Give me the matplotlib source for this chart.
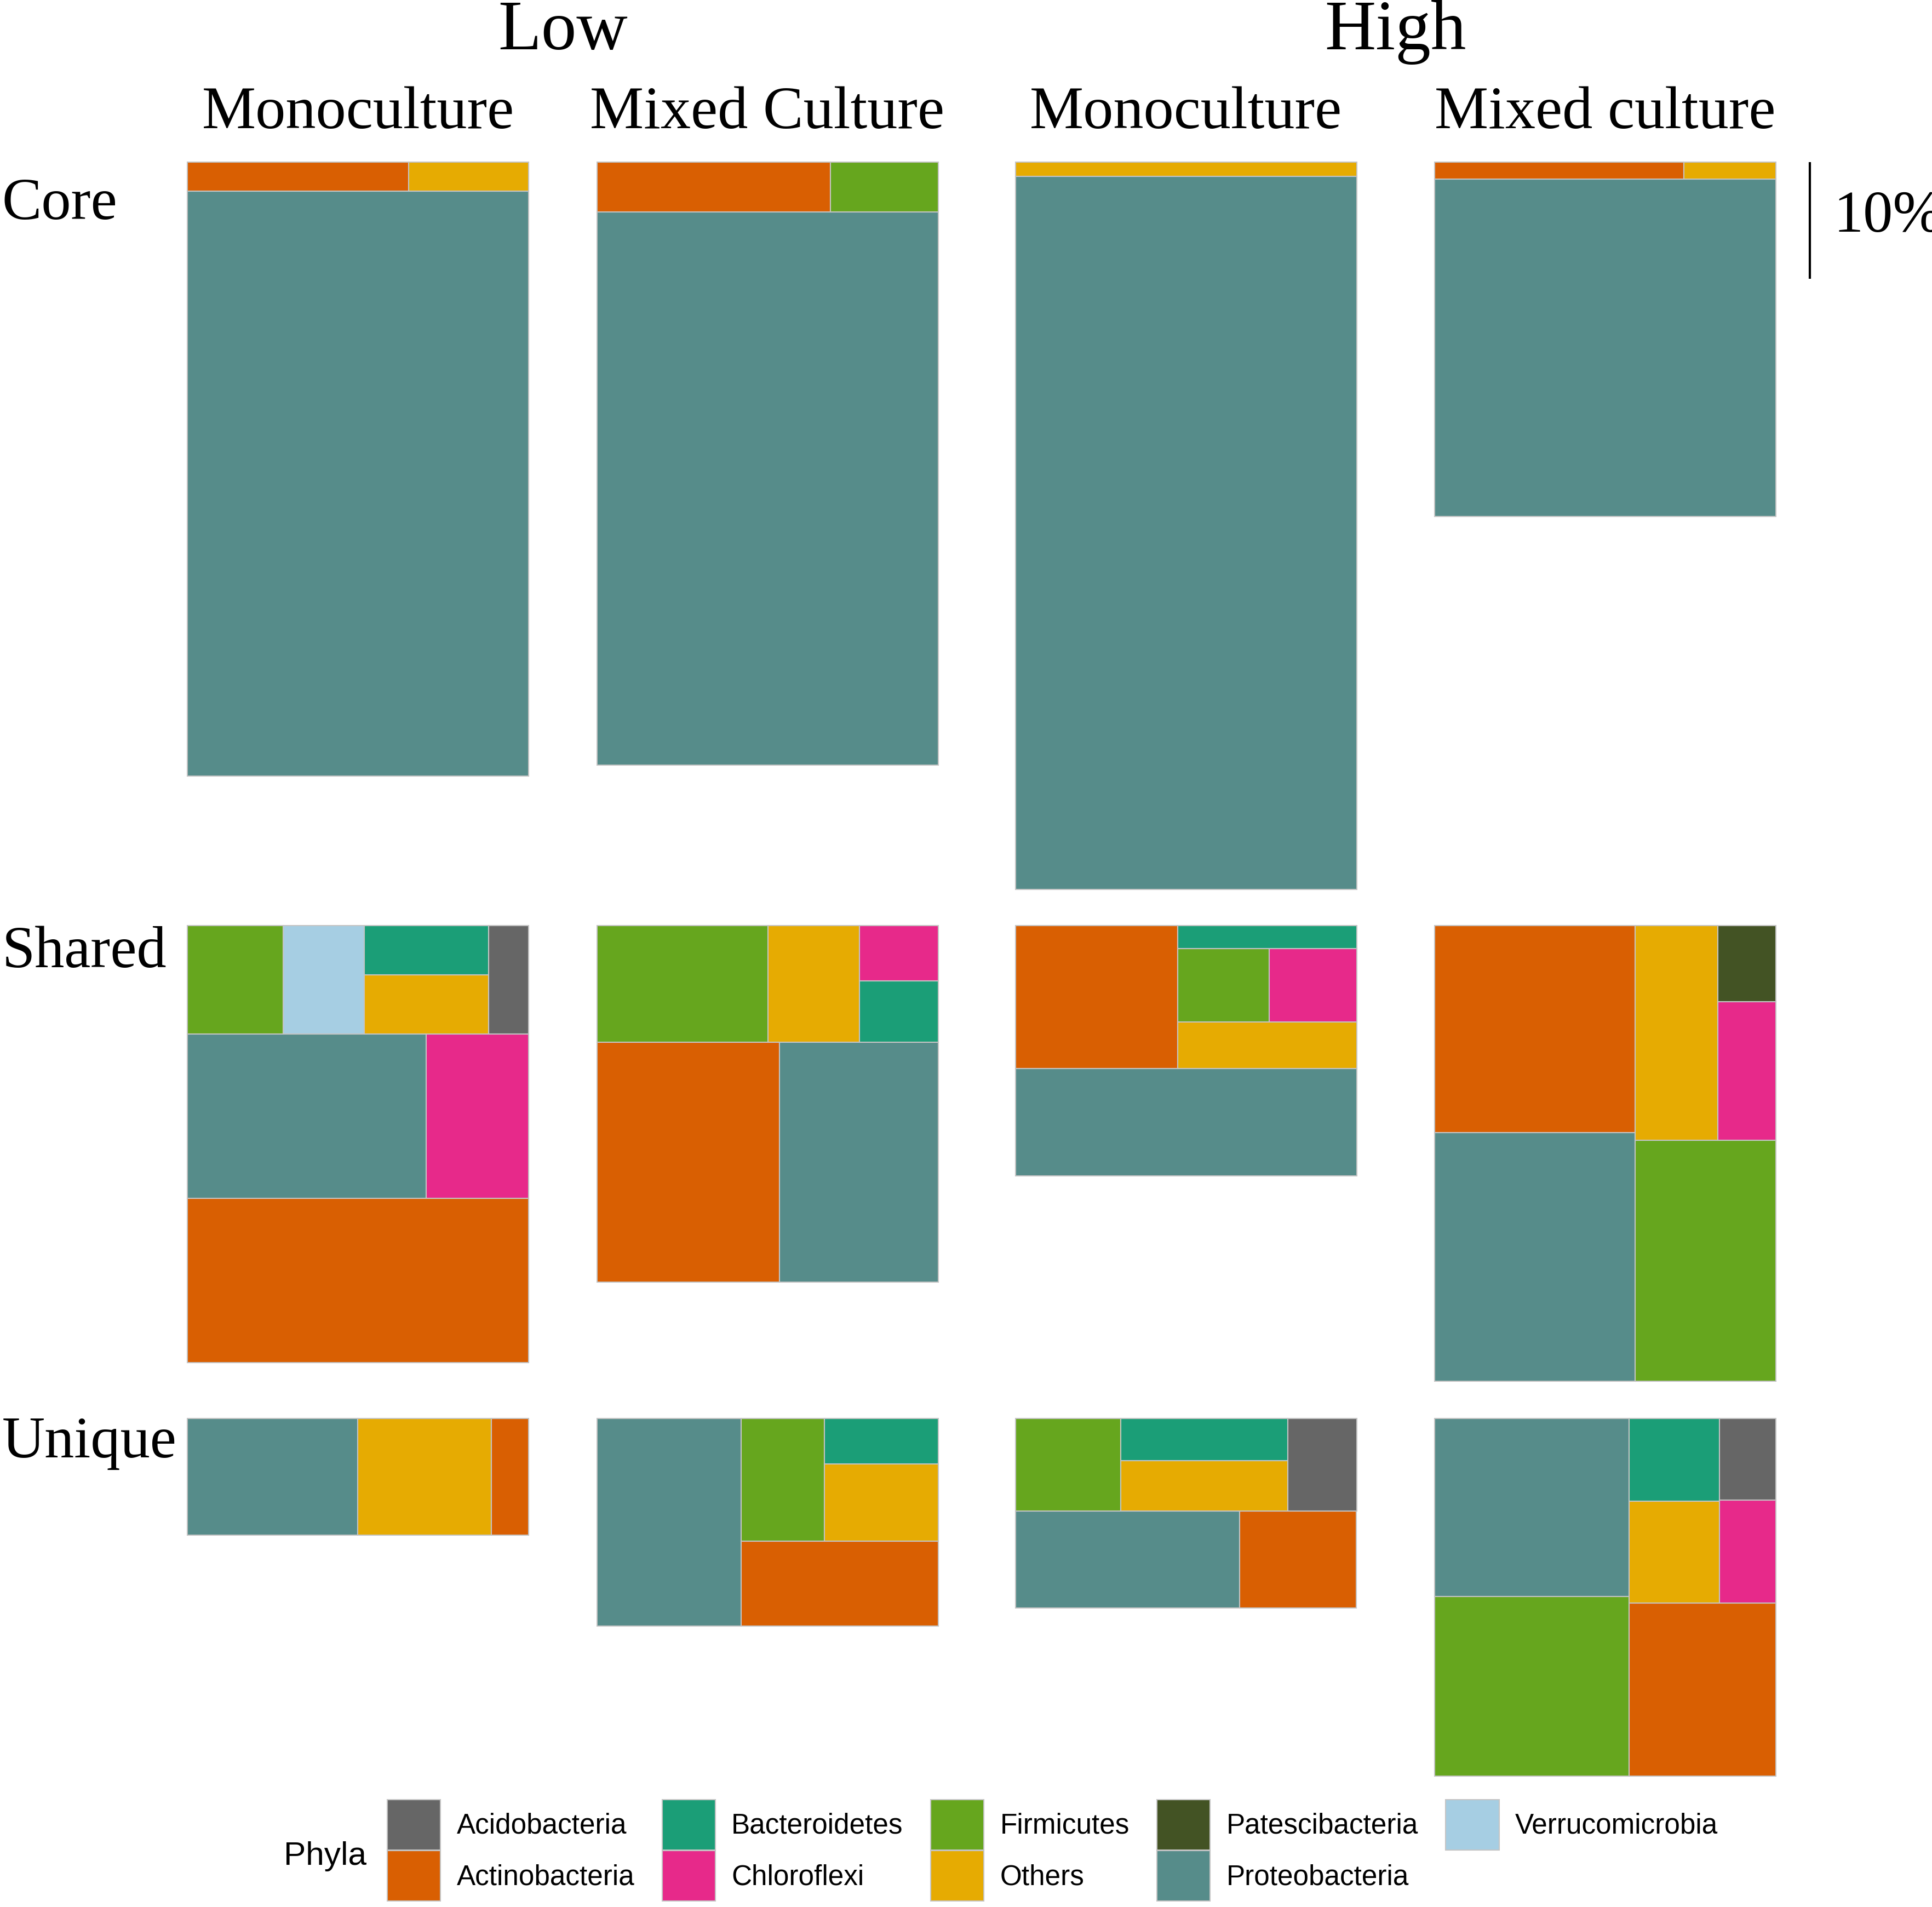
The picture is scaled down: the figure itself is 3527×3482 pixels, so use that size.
import matplotlib
matplotlib.use('Agg')  # no display
import matplotlib.pyplot as plt
from matplotlib.patches import Rectangle, Patch

# phyla (legend order) and their fill colours
PHYLA = ['Acidobacteria', 'Actinobacteria', 'Bacteroidetes', 'Chloroflexi',
         'Firmicutes', 'Others', 'Patescibacteria', 'Proteobacteria',
         'Verrucomicrobia']
COLORS = ['#666666', '#D95F02', '#1B9E77', '#E7298A',
          '#66A61E', '#E6AB02', '#435324', '#568C8A',
          '#A6CEE3']

# relative abundance (%) per panel, values in PHYLA order
core_low_mono = [0, 1.62, 0, 0, 0, 0.88, 0, 50.08, 0]
core_low_mixed = [0, 2.92, 0, 0, 1.35, 0, 0, 47.36, 0]
core_high_mono = [0, 0, 0, 0, 0, 1.22, 0, 61.06, 0]
core_high_mixed = [0, 1.06, 0, 0, 0, 0.39, 0, 28.88, 0]

shared_low_mono = [1.09, 14.03, 1.54, 4.22, 2.61, 1.84, 0, 9.86, 2.21]
shared_low_mixed = [0, 10.99, 1.21, 1.09, 5.01, 2.69, 0, 9.54, 0]
shared_high_mono = [0, 5.83, 1.03, 1.61, 1.68, 2.08, 0, 9.20, 0]
shared_high_mixed = [0, 10.44, 0, 2.01, 8.48, 4.44, 1.10, 12.52, 0]

unique_low_mono = [0, 1.10, 0, 0, 0, 3.92, 0, 5.01, 0]
unique_low_mixed = [0, 4.18, 1.31, 0, 2.57, 2.20, 0, 7.52, 0]
unique_high_mono = [1.60, 2.85, 1.78, 0, 2.45, 2.11, 0, 5.47, 0]
unique_high_mixed = [1.16, 6.36, 1.88, 1.45, 8.77, 2.30, 0, 8.70, 0]

GROUPS = ['Low', 'High']
CULTURES = ['Monoculture', 'Mixed Culture', 'Monoculture', 'Mixed culture']
FRACTIONS = ['Core', 'Shared', 'Unique']

PANELS = [
    [core_low_mono, core_low_mixed, core_high_mono, core_high_mixed],
    [shared_low_mono, shared_low_mixed, shared_high_mono, shared_high_mixed],
    [unique_low_mono, unique_low_mixed, unique_high_mono, unique_high_mixed],
]

# strip structure of each treemap: (direction, number of tiles), tiles taken
# largest first, starting in the bottom-left corner
STRIPS = [
    [[('h', 1), ('h', 2)], [('h', 1), ('h', 2)],
     [('h', 1), ('h', 1)], [('h', 1), ('h', 2)]],
    [[('h', 1), ('h', 2), ('v', 1), ('v', 1), ('v', 2), ('v', 1)],
     [('h', 2), ('v', 1), ('v', 1), ('h', 1), ('h', 1)],
     [('h', 1), ('v', 1), ('h', 1), ('h', 2), ('h', 1)],
     [('v', 2), ('h', 1), ('v', 1), ('h', 1), ('h', 1)]],
    [[('v', 1), ('v', 1), ('v', 1)],
     [('v', 1), ('h', 1), ('v', 1), ('h', 1), ('h', 1)],
     [('h', 2), ('v', 1), ('v', 2), ('v', 1)],
     [('v', 2), ('h', 1), ('v', 2), ('v', 2)]],
]


def treemap(values, strips, width, height):
    items = sorted([(v, i) for i, v in enumerate(values) if v > 0],
                   key=lambda t: -t[0])
    x0, y0, w, h = 0.0, 0.0, width, height
    k = 0
    tiles = []
    for direction, n in strips:
        chunk = items[k:k + n]
        k += n
        s = sum(v for v, _ in chunk)
        if direction == 'h':
            sh = s / w
            cx = x0
            for v, i in chunk:
                tiles.append((i, cx, y0, v / sh, sh))
                cx += v / sh
            y0 += sh
            h -= sh
        else:
            sw = s / h
            cy = y0
            for v, i in chunk:
                tiles.append((i, x0, cy, sw, v / sw))
                cy += v / sw
            x0 += sw
            w -= sw
    return tiles


# page layout (pixels of the 3527 x 3482 output)
W, H = 3527, 3482
COL_LEFT = [342, 1089.5, 1853.5, 2618.5]
PANEL_W = 623
ROW_TOP = [295.7, 1690, 2589.5]
PX_PER_PCT = 21.33
SERIF = 'Liberation Serif'
SANS = 'Liberation Sans'
EDGE = '#C4C4C4'

fig = plt.figure(figsize=(W / 300, H / 300), dpi=300, facecolor='white')

axes = []
for r, row in enumerate(PANELS):
    row_max = max(sum(p) for p in row)
    ax_h = row_max * PX_PER_PCT
    row_axes = []
    for c, vals in enumerate(row):
        ax = fig.add_axes([COL_LEFT[c] / W, 1 - (ROW_TOP[r] + ax_h) / H,
                           PANEL_W / W, ax_h / H])
        ax.set_xlim(0, 1)
        ax.set_ylim(-row_max, 0)
        ax.axis('off')
        total = sum(vals)
        for i, x, y, tw, th in treemap(vals, STRIPS[r][c], 1.0, total):
            ax.add_patch(Rectangle((x, y - total), tw, th, facecolor=COLORS[i],
                                   edgecolor=EDGE, linewidth=0.5, clip_on=False))
        row_axes.append(ax)
    axes.append(row_axes)

# 10% scale bar next to the top-right panel
ax = axes[0][3]
ax.plot([1.101, 1.101], [0, -10], color='black', linewidth=1.0,
        solid_capstyle='butt', clip_on=False)
ax.text(1.17, -5.97, '10%', fontsize=26, family=SERIF, va='baseline',
        ha='left', clip_on=False)

# facet labels
for g, name in enumerate(GROUPS):
    cx = (COL_LEFT[2 * g] + COL_LEFT[2 * g + 1] + PANEL_W) / 2
    fig.text(cx / W, 1 - 90 / H, name, fontsize=31, family=SERIF,
             ha='center', va='baseline')
for c, name in enumerate(CULTURES):
    cx = COL_LEFT[c] + PANEL_W / 2
    fig.text(cx / W, 1 - 234 / H, name, fontsize=26.5, family=SERIF,
             ha='center', va='baseline')
for name, base in zip(FRACTIONS, [400, 1766, 2661]):
    fig.text(4 / W, 1 - base / H, name, fontsize=26, family=SERIF,
             ha='left', va='baseline')

# legend
handles = [Patch(facecolor=col, edgecolor=EDGE, linewidth=0.5) for col in COLORS]
fig.legend(handles, PHYLA, ncol=5, loc='upper left',
           bbox_to_anchor=(707 / W, 1 - 3286 / H), frameon=False,
           prop={'family': SANS, 'size': 12.3},
           handlelength=1.9, handleheight=2.39, handletextpad=0.57,
           columnspacing=0.98, labelspacing=0.02, borderpad=0, borderaxespad=0)
fig.text(518 / W, 1 - 3405 / H, 'Phyla', fontsize=14.5, family=SANS,
         ha='left', va='baseline')

fig.savefig('out.png', dpi=300, facecolor='white')
